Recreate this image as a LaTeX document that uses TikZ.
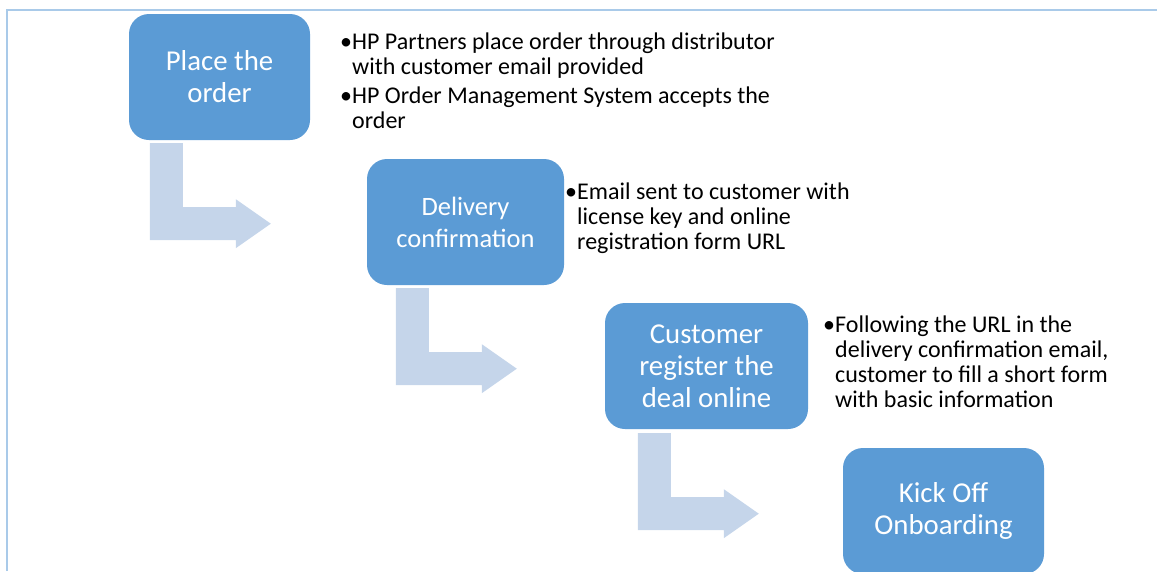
\documentclass[tikz,border=0pt]{standalone}
\usepackage{fontspec}
\setmainfont{Carlito}
\usetikzlibrary{calc}

\definecolor{stepblue}{HTML}{5B9BD5}
\definecolor{arrowblue}{HTML}{C5D5EA}
\definecolor{frameblue}{HTML}{A9CAE9}

\tikzset{
  stepbox/.style={fill=stepblue, draw=none, rounded corners=20pt, text=white,
    align=center, inner sep=0pt, minimum height=126pt,
    font=\fontsize{28.8}{32}\selectfont},
  note/.style={anchor=base west, inner sep=0pt, text=black,
    font=\fontsize{24}{25}\selectfont},
  bentarrow/.pic={
    \fill[arrowblue] (0,0) -- (33,0) -- (33,64) -- (86,64) -- (86,56)
      -- (121,80.5) -- (86,105) -- (86,97) -- (0,97) -- cycle;
  }
}
\newcommand{\bul}{\makebox[12pt][l]{•}}

\begin{document}
\begin{tikzpicture}[x=1pt,y=-1pt]
\useasboundingbox (0,0) rectangle (1157,571);
\clip (0,0) rectangle (1157,571);

% frame
\draw[frameblue, line width=2pt] (7,571) -- (7,10) -- (1157,10);

% process steps
\node[stepbox, minimum width=181pt] (place) at (219.5,77) {Place the\\order};
\node[stepbox, minimum width=197pt, font=\fontsize{26.5}{32}\selectfont] (deliv) at (465.5,222) {Delivery\\confirmation};
\node[stepbox, minimum width=203pt] (cust) at (706.5,366) {Customer\\register the\\deal online};
\node[stepbox, minimum width=201pt] (kick) at (943.5,511) {Kick Off\\Onboarding};

% bent arrows between steps
\pic at ($(place.south west)+(21,3)$) {bentarrow};
\pic at ($(deliv.south west)+(29,3)$) {bentarrow};
\pic at ($(cust.south west)+(33,4)$) {bentarrow};

% step descriptions
\node[note] (n1) at (340,49) {\begin{tabular}[t]{@{}l@{}l@{}}
\bul & HP Partners place order through distributor\\
     & with customer email provided\\[4pt]
\bul & HP Order Management System accepts the\\
     & order
\end{tabular}};
\node[note] (n2) at (565,199) {\begin{tabular}[t]{@{}l@{}l@{}}
\bul & Email sent to customer with\\
     & license key and online\\
     & registration form URL
\end{tabular}};
\node[note] (n3) at (823,332) {\begin{tabular}[t]{@{}l@{}l@{}}
\bul & Following the URL in the\\
     & delivery confirmation email,\\
     & customer to fill a short form\\
     & with basic information
\end{tabular}};
\end{tikzpicture}
\end{document}
